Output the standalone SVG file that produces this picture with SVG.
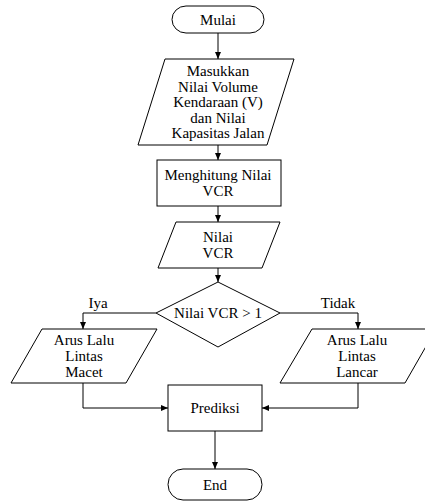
<svg xmlns="http://www.w3.org/2000/svg" width="425" height="502" viewBox="0 0 425 502">
<defs>
<marker id="ah" markerWidth="8" markerHeight="8" refX="7" refY="4" orient="auto" markerUnits="userSpaceOnUse">
<path d="M0,1 L7,4 L0,7 Z" fill="#000"/>
</marker>
<style>
.s{fill:#fff;stroke:#000;stroke-width:1}
.c{fill:none;stroke:#000;stroke-width:1;marker-end:url(#ah)}
.t{font-family:Liberation Serif,serif;font-size:15px;fill:#000;text-anchor:middle}
</style>
</defs>
<rect width="425" height="502" fill="#fff"/>
<g id="connectors">
<line class="c" x1="218" y1="33" x2="218" y2="59"/>
<line class="c" x1="218" y1="145" x2="218" y2="160"/>
<line class="c" x1="218" y1="206" x2="218" y2="222"/>
<line class="c" x1="218" y1="268" x2="218" y2="282"/>
<polyline class="c" points="156,313 83,313 83,329"/>
<polyline class="c" points="280,313 358,313 358,329"/>
<polyline class="c" points="83,383 83,408 168,408"/>
<polyline class="c" points="358,383 358,408 262,408"/>
<line class="c" x1="215" y1="431" x2="215" y2="469"/>
<text class="t" font-family="Liberation Serif" x="98" y="308">Iya</text>
<text class="t" font-family="Liberation Serif" x="338" y="308">Tidak</text>
</g>
<g id="mulai">
<rect class="s" x="172" y="6" width="92" height="27" rx="14" ry="13.5"/>
<text class="t" font-family="Liberation Serif" x="218" y="24.5">Mulai</text>
</g>
<g id="input">
<polygon class="s" points="165,59 294,59 267,145 138,145"/>
<text class="t" font-family="Liberation Serif" x="218" y="76">Masukkan</text>
<text class="t" font-family="Liberation Serif" x="218" y="91.5">Nilai Volume</text>
<text class="t" font-family="Liberation Serif" x="218" y="107">Kendaraan (V)</text>
<text class="t" font-family="Liberation Serif" x="218" y="122.5">dan Nilai</text>
<text class="t" font-family="Liberation Serif" x="218" y="138">Kapasitas Jalan</text>
</g>
<g id="hitung">
<rect class="s" x="157" y="160" width="124" height="46"/>
<text class="t" font-family="Liberation Serif" x="218" y="180">Menghitung Nilai</text>
<text class="t" font-family="Liberation Serif" x="218" y="196">VCR</text>
</g>
<g id="nilai">
<polygon class="s" points="176,222 280,222 262,268 158,268"/>
<text class="t" font-family="Liberation Serif" x="218" y="242">Nilai</text>
<text class="t" font-family="Liberation Serif" x="218" y="258">VCR</text>
</g>
<g id="decision">
<polygon class="s" points="218,282 280,313 218,347 156,313"/>
<text class="t" font-family="Liberation Serif" x="218" y="318">Nilai VCR &gt; 1</text>
</g>
<g id="macet">
<polygon class="s" points="42,329 157,329 126,383 11,383"/>
<text class="t" font-family="Liberation Serif" x="84" y="345">Arus Lalu</text>
<text class="t" font-family="Liberation Serif" x="84" y="361">Lintas</text>
<text class="t" font-family="Liberation Serif" x="84" y="377">Macet</text>
</g>
<g id="lancar">
<polygon class="s" points="312,329 436,329 405,383 280,383"/>
<text class="t" font-family="Liberation Serif" x="357" y="345">Arus Lalu</text>
<text class="t" font-family="Liberation Serif" x="357" y="361">Lintas</text>
<text class="t" font-family="Liberation Serif" x="357" y="377">Lancar</text>
</g>
<g id="prediksi">
<rect class="s" x="168" y="385" width="94" height="46"/>
<text class="t" font-family="Liberation Serif" x="215" y="413">Prediksi</text>
</g>
<g id="end">
<rect class="s" x="168" y="469" width="94" height="31" rx="15" ry="15.5"/>
<text class="t" font-family="Liberation Serif" x="215" y="490">End</text>
</g>
</svg>
